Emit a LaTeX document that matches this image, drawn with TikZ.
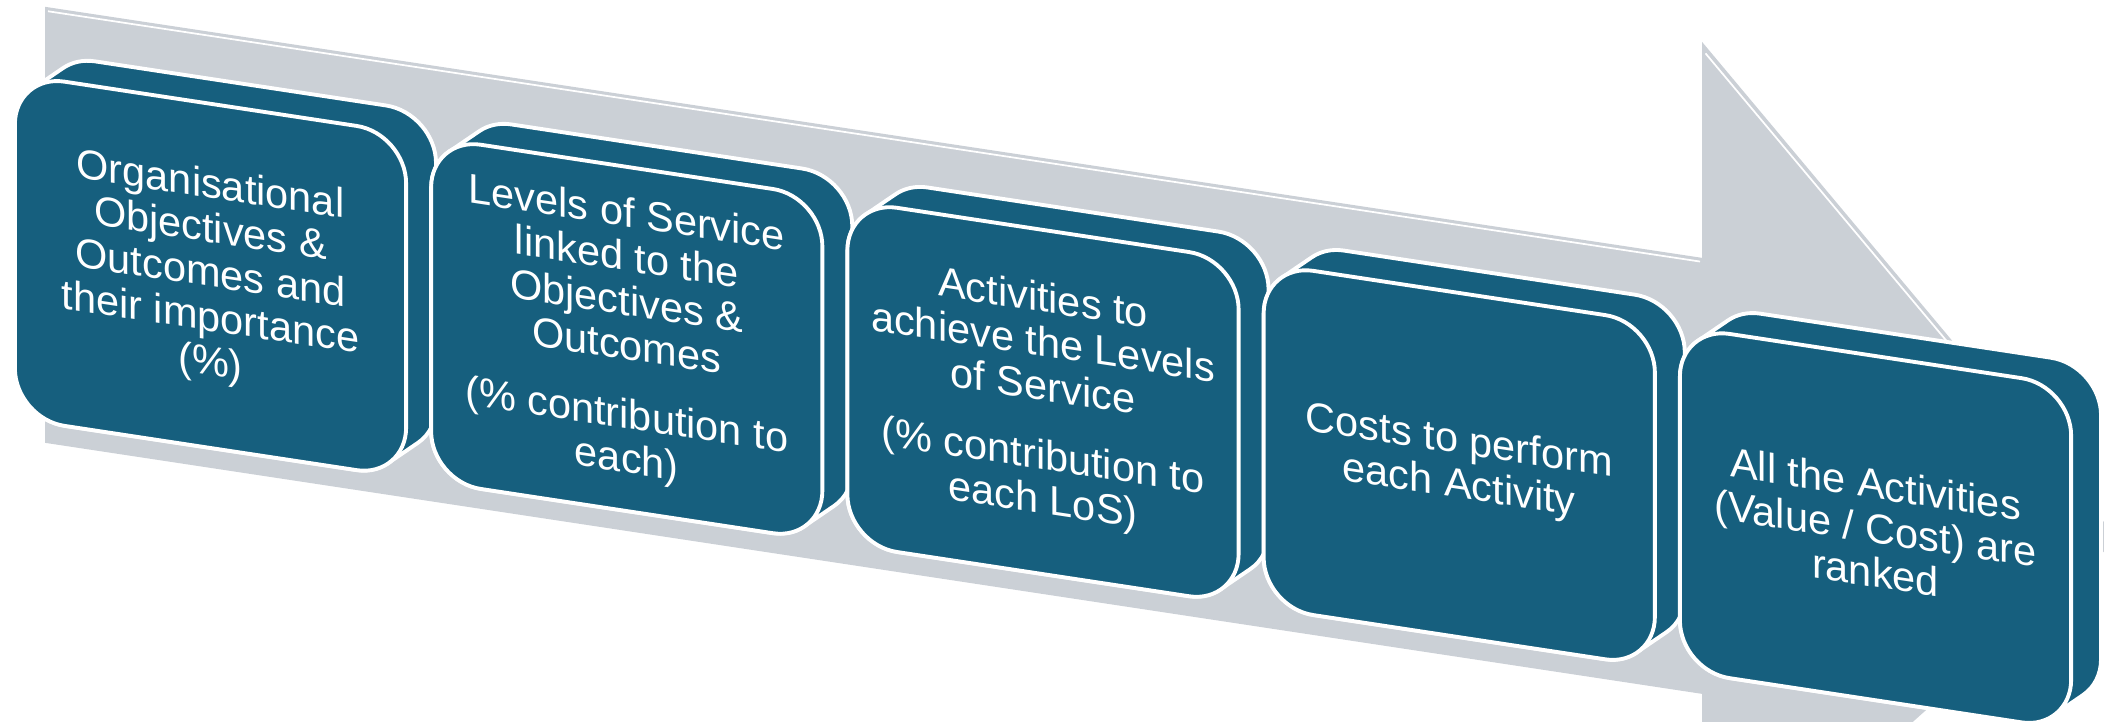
\documentclass[tikz,border=0pt]{standalone}
\usepackage{fontspec}
\setmainfont{Liberation Sans}
\usepackage{tikz}

\definecolor{stepteal}{RGB}{22,95,126}
\definecolor{arrowgrey}{RGB}{203,208,214}

% back part of a step, #1 = left side of the front face
\newcommand{\stepsolid}[1]{%
\draw[solidbox] (#1,355) -- (#1,599) arc[start angle=180, end angle=129.8, radius=0.5cm] -- ++(30,25) arc[start angle=129.8, end angle=90, radius=0.5cm] -- ({#1+371},674) arc[start angle=90, end angle=0, radius=0.5cm] -- ({#1+421},380) arc[start angle=0, end angle=-50.2, radius=0.5cm] -- ++(-30,-25) arc[start angle=-50.2, end angle=-90, radius=0.5cm] -- ({#1+50},305) arc[start angle=270, end angle=180, radius=0.5cm] -- cycle;}

\begin{document}
\begin{tikzpicture}[x=0.01cm, y=0.01cm,
  solidbox/.style={fill=stepteal, draw=white, line width=1.1pt, line join=round},
  stepbox/.style={rectangle, rounded corners=0.5cm, fill=stepteal, draw=white, line width=1.1pt,
    minimum width=3.91cm, minimum height=3.44cm, inner sep=0pt, text=white, align=center,
    font=\fontsize{11.8}{12.6}\selectfont, transform shape},
  shine/.style={white, line width=0.5pt}]
\useasboundingbox (0,0) rectangle (2104,721);
\begin{scope}[yslant=-0.1515]
%\draw (0,0) grid (2104,721);
\fill[arrowgrey] (45,721) -- (1702,721) -- (1702,937) -- (2118,503) -- (1702,69) -- (1702,285) -- (45,285) -- cycle;
\draw[shine] (48,717) -- (1700,717);
\draw[shine] (1705.5,926) -- (2080,536);

\stepsolid{15}
\node[stepbox] (obj) at (210.5,477) {Organisational\\Objectives \&\\Outcomes and\\their importance\\(\%)};

\stepsolid{431.25}
\node[stepbox] (los) at (626.75,477) {Levels of Service\\linked to the\\Objectives \&\\Outcomes\\[7pt](\% contribution to\\each)};

\stepsolid{847.5}
\node[stepbox] (act) at (1043,477) {Activities to\\achieve the Levels\\of Service\\[7pt](\% contribution to\\each LoS)};

\stepsolid{1263.75}
\node[stepbox] (cost) at (1459.25,477) {Costs to perform\\each Activity};

\stepsolid{1680}
\node[stepbox] (rank) at (1875.5,477) {All the Activities\\(Value / Cost) are\\ranked};
\end{scope}
\end{tikzpicture}
\end{document}
